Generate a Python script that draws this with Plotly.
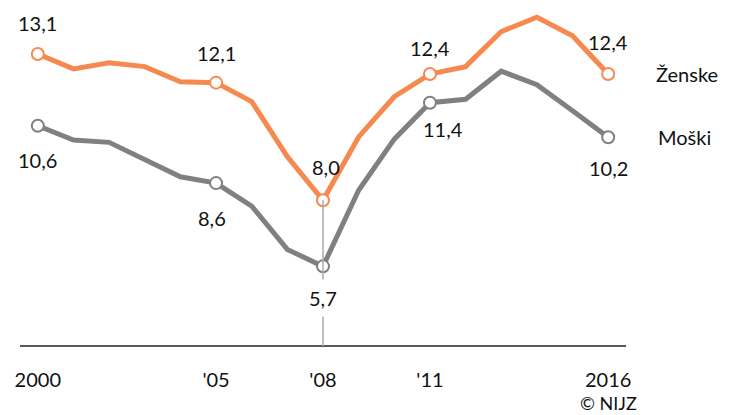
import plotly.graph_objects as go

years = list(range(2000, 2017))
zenske = [13.1, 12.58, 12.79, 12.66, 12.13, 12.1, 11.44, 9.52, 8.0, 10.21, 11.61, 12.4, 12.66, 13.88, 14.38, 13.73, 12.4]
moski = [10.6, 10.1, 10.02, 9.4, 8.82, 8.6, 7.8, 6.29, 5.7, 8.35, 10.13, 11.4, 11.52, 12.5, 12.03, 11.12, 10.2]
series_names = ["Ženske", "Moški"]
marked_years = [2000, 2005, 2008, 2011, 2016]
tick_vals = [2000, 2005, 2008, 2011, 2016]
tick_text = ["2000", "'05", "'08", "'11", "2016"]

ORANGE = "#F5894F"
GRAY = "#808080"
FONT = "Lato"

fig = go.Figure()

for vals, color in [(moski, GRAY), (zenske, ORANGE)]:
    fig.add_trace(go.Scatter(x=years, y=vals, mode="lines",
                             line=dict(color=color, width=5), hoverinfo="skip"))

for vals, color in [(moski, GRAY), (zenske, ORANGE)]:
    mx = [y for y in years if y in marked_years]
    my = [vals[years.index(y)] for y in mx]
    fig.add_trace(go.Scatter(x=mx, y=my, mode="markers",
                             marker=dict(size=12, color="white", line=dict(color=color, width=2)),
                             hoverinfo="skip"))

# vertical guide line at 2008
i08 = years.index(2008)
fig.add_shape(type="line", xref="x", yref="y", x0=2008, x1=2008,
              y0=2.924, y1=zenske[i08], line=dict(color="#aaaaaa", width=1.5), layer="above")

def fmt(v):
    return f"{v:.1f}".replace(".", ",")

# label offsets (pixels)
f_off = {2000: (0, 31), 2005: (0, 30), 2008: (3, 33), 2011: (0, 26), 2016: (0, 32)}
m_off = {2000: (0, -34), 2005: (-4, -35), 2008: (0, -32), 2011: (13, -26), 2016: (0, -31)}

for y in marked_years:
    v = zenske[years.index(y)]
    dx, dy = f_off[y]
    fig.add_annotation(x=y, y=v, text=fmt(v), showarrow=False, xshift=dx, yshift=dy,
                       font=dict(family=FONT, size=20, color="#111"))
    v = moski[years.index(y)]
    dx, dy = m_off[y]
    fig.add_annotation(x=y, y=v, text=fmt(v), showarrow=False, xshift=dx, yshift=dy,
                       font=dict(family=FONT, size=20, color="#111"),
                       bgcolor="white" if y == 2008 else None, borderpad=6 if y == 2008 else 0)

# series labels
fig.add_annotation(x=2016, y=zenske[-1], text=series_names[0], showarrow=False, xanchor="left",
                   xshift=46, yshift=0, font=dict(family=FONT, size=20, color="#111"))
fig.add_annotation(x=2016, y=moski[-1], text=series_names[1], showarrow=False, xanchor="left",
                   xshift=48, yshift=0, font=dict(family=FONT, size=20, color="#111"))

fig.add_annotation(xref="paper", yref="paper", x=1.0, y=0, xanchor="right", yanchor="top",
                   xshift=12, yshift=-45, text="© NIJZ", showarrow=False, borderpad=0,
                   font=dict(family=FONT, size=18, color="#111"))

fig.update_layout(
    width=731, height=415,
    margin=dict(l=20, r=105, t=0, b=69),
    plot_bgcolor="white", paper_bgcolor="white",
    showlegend=False,
    xaxis=dict(range=[1999.5, 2016.5], tickvals=tick_vals, ticktext=tick_text,
               showgrid=False, zeroline=False, showline=False, ticks="",
               ticklabelstandoff=20, tickfont=dict(family=FONT, size=20, color="#111")),
    yaxis=dict(range=[2.924, 14.98], showgrid=False, zeroline=False, showline=False,
               showticklabels=False, ticks=""),
)
fig.add_shape(type="line", xref="paper", yref="paper", x0=0, x1=1, y0=0, y1=0,
              line=dict(color="#5a5a5a", width=2), layer="below")

fig.write_html("out.html", config={"displayModeBar": False},
               post_script="document.body.style.margin='0';")
